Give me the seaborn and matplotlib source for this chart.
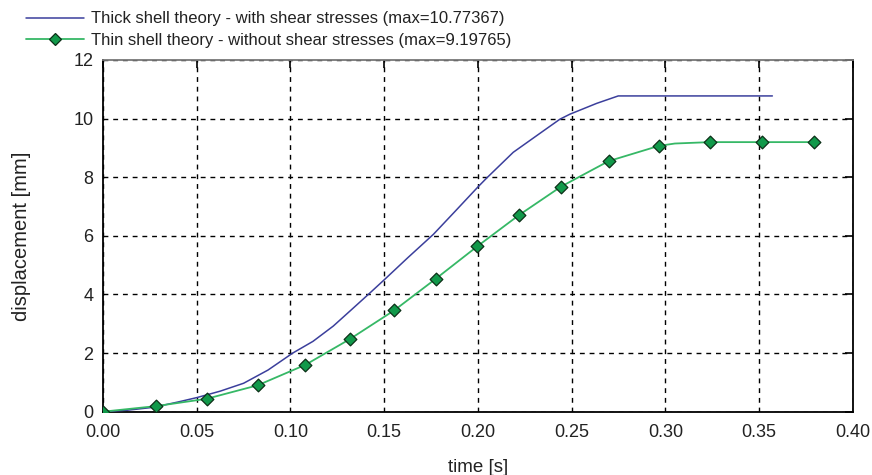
import matplotlib
matplotlib.use("Agg")
import matplotlib.pyplot as plt
from matplotlib.lines import Line2D
import pandas as pd
import seaborn as sns

# Thick shell theory (with shear stresses): time [s] vs displacement [mm]
thick_t = [0.000, 0.013, 0.027, 0.040, 0.050, 0.0625, 0.075, 0.088, 0.1012,
           0.112, 0.1228, 0.132, 0.1415, 0.150, 0.1625, 0.1762, 0.188, 0.200,
           0.2046, 0.2188, 0.2331, 0.2437, 0.249, 0.2633, 0.2748, 0.300,
           0.330, 0.357]
thick_d = [0.00, 0.05, 0.15, 0.33, 0.48, 0.70, 0.97, 1.42, 2.00,
           2.40, 2.92, 3.45, 4.00, 4.50, 5.25, 6.05, 6.85, 7.67,
           7.97, 8.85, 9.50, 9.98, 10.15, 10.52, 10.77367, 10.77367,
           10.77367, 10.77367]

# Thin shell theory (without shear stresses): curve and marked time steps
thin_t = [0.000, 0.0283, 0.0553, 0.0825, 0.108, 0.1315, 0.1554, 0.1774,
          0.1996, 0.2217, 0.2443, 0.2697, 0.2965, 0.305, 0.3237, 0.3516, 0.3792]
thin_d = [0.00, 0.19, 0.44, 0.90, 1.60, 2.47, 3.46, 4.53,
          5.64, 6.70, 7.68, 8.55, 9.07, 9.15, 9.19765, 9.19765, 9.19765]
mark_t = [0.000, 0.0283, 0.0553, 0.0825, 0.108, 0.1315, 0.1554, 0.1774,
          0.1996, 0.2217, 0.2443, 0.2697, 0.2965, 0.3237, 0.3516, 0.3792]
mark_d = [0.00, 0.19, 0.44, 0.90, 1.60, 2.47, 3.46, 4.53,
          5.64, 6.70, 7.68, 8.55, 9.07, 9.19765, 9.19765, 9.19765]

labels = ["Thick shell theory - with shear stresses (max=10.77367)",
          "Thin shell theory - without shear stresses (max=9.19765)"]
x_ticks = [0.00, 0.05, 0.10, 0.15, 0.20, 0.25, 0.30, 0.35, 0.40]
y_ticks = [0, 2, 4, 6, 8, 10, 12]

sns.set_theme(style="white")
plt.rcParams["font.family"] = ["Liberation Sans", "DejaVu Sans"]

BLUE = "#3b3f9c"
GREEN = "#36b866"
MFACE = "#11994a"
MEDGE = "#0b2f17"
TEXT = "#222222"

thick = pd.DataFrame({"time": thick_t, "disp": thick_d})
thin = pd.DataFrame({"time": thin_t, "disp": thin_d})
marks = pd.DataFrame({"time": mark_t, "disp": mark_d})

fig = plt.figure(figsize=(8.72, 4.75), dpi=100)
ax = fig.add_axes([0.1181, 0.1333, 0.8601, 0.7404])

sns.lineplot(data=thick, x="time", y="disp", ax=ax, color=BLUE, lw=1.1,
             sort=False, estimator=None, zorder=3)
sns.lineplot(data=thin, x="time", y="disp", ax=ax, color=GREEN, lw=1.3,
             sort=False, estimator=None, zorder=3)
sns.scatterplot(data=marks, x="time", y="disp", ax=ax, marker="D", s=42,
                color=MFACE, edgecolor=MEDGE, linewidth=0.9, zorder=4)

ax.set_xlim(0, 0.40)
ax.set_ylim(0, 12)
ax.set_xticks(x_ticks)
ax.set_xticklabels([f"{v:.2f}" for v in x_ticks])
ax.set_yticks(y_ticks)
ax.set_yticklabels([str(v) for v in y_ticks])

ax.grid(True, color="black", lw=1.0, linestyle=(0, (3.5, 3.5)))
ax.tick_params(direction="in", length=6, width=1.2, color="black",
               top=True, right=True, labelsize=13, labelcolor=TEXT)
ax.tick_params(axis="x", pad=9)
ax.tick_params(axis="y", pad=7)
for side, sp in ax.spines.items():
    sp.set_visible(True)
    sp.set_color("black")
    sp.set_linewidth(1.3)
ax.spines["top"].set_color("#777777")

ax.set_xlabel("time [s]", fontsize=13.5, color=TEXT, labelpad=13)
ax.set_ylabel("displacement [mm]", fontsize=14.5, color=TEXT, labelpad=30)

handles = [
    Line2D([], [], color=BLUE, lw=1.1),
    Line2D([], [], color=GREEN, lw=1.3, marker="D", markersize=6.5,
           markerfacecolor=MFACE, markeredgecolor=MEDGE, markeredgewidth=0.9),
]
fig.legend(handles, labels, loc="upper left", bbox_to_anchor=(0.022, 0.99),
           frameon=False, fontsize=12, handlelength=3.5, handletextpad=0.4,
           labelspacing=0.38, borderaxespad=0.0, labelcolor=TEXT)

fig.savefig("out.png", dpi=100)
